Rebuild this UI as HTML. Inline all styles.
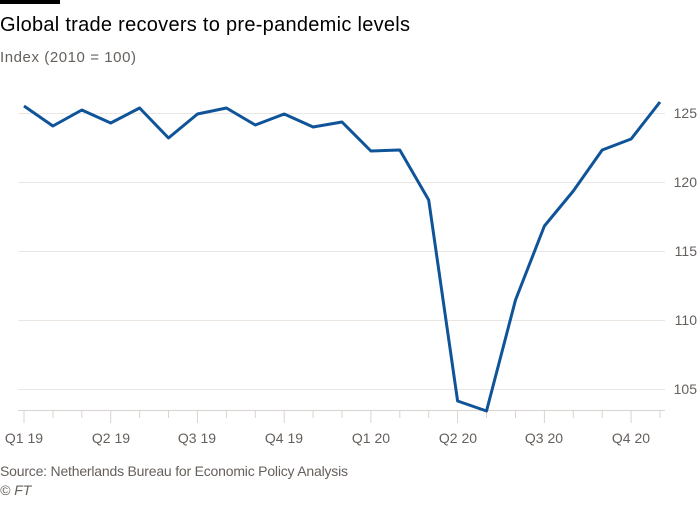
<!DOCTYPE html>
<html><head><style>
body{margin:0;background:#fff;width:700px;height:500px;overflow:hidden;font-family:"Liberation Sans",sans-serif}
</style></head><body>
<svg width="700" height="500" xmlns="http://www.w3.org/2000/svg" font-family="Liberation Sans, sans-serif">
<rect x="0" y="0" width="60" height="4" fill="#000"/>
<text x="0" y="31" font-size="20" fill="#000" textLength="410">Global trade recovers to pre-pandemic levels</text>
<text x="0" y="62" font-size="15" fill="#66605c" textLength="136">Index (2010 = 100)</text>
<g stroke="#ebe6e1" stroke-width="1">
<line x1="18" x2="665" y1="113.5" y2="113.5"/>
<line x1="18" x2="665" y1="182.5" y2="182.5"/>
<line x1="18" x2="665" y1="251.5" y2="251.5"/>
<line x1="18" x2="665" y1="320.5" y2="320.5"/>
<line x1="18" x2="665" y1="389.5" y2="389.5"/>
<line x1="18" x2="665" y1="410.5" y2="410.5" stroke="#d9d4cf"/>
</g>
<g font-size="14" fill="#66605c" text-anchor="end">
<text x="697" y="118">125</text><text x="697" y="187">120</text><text x="697" y="256">115</text><text x="697" y="325">110</text><text x="697" y="394">105</text>
</g>
<g stroke="#d9d4cf" id="t"></g>
<g font-size="14" fill="#66605c" text-anchor="middle">
<text x="24" y="443">Q1 19</text><text x="111" y="443">Q2 19</text><text x="197" y="443">Q3 19</text><text x="284" y="443">Q4 19</text>
<text x="371" y="443">Q1 20</text><text x="458" y="443">Q2 20</text><text x="544" y="443">Q3 20</text><text x="631" y="443">Q4 20</text>
</g>
<polyline fill="none" stroke="#0f5499" stroke-width="3" stroke-linejoin="round" id="p"/>
<text x="0" y="476" font-size="14" fill="#66605c" textLength="348">Source: Netherlands Bureau for Economic Policy Analysis</text>
<text x="0" y="495" font-size="14" fill="#66605c" font-style="italic">© FT</text>
</svg>
<script>
var ys=[106,126,110,123,108,138,114,108,125,114,127,122,151,150,200,401,411,300,226,191,150,139,102];
var pts=ys.map(function(y,i){return (24+i*636/22).toFixed(1)+","+y}).join(" ");
document.getElementById("p").setAttribute("points",pts);
var t="";for(var i=0;i<23;i++){var x=(24+i*636/22).toFixed(1);t+='<line x1="'+x+'" x2="'+x+'" y1="411" y2="'+(i%3==0?423:418)+'"/>';}
document.getElementById("t").innerHTML=t;
</script>
</body></html>
